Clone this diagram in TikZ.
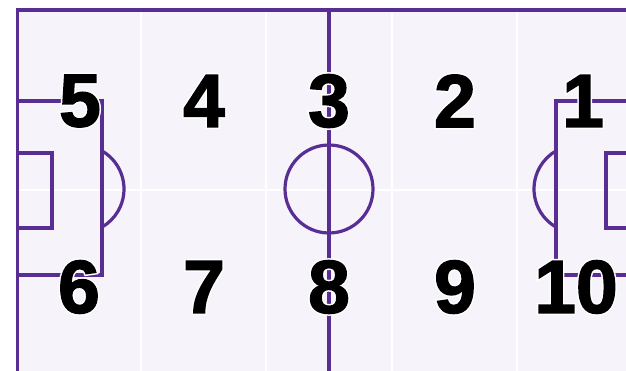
\documentclass[tikz,border=0pt]{standalone}
\usepackage{fontspec}
\setmainfont{Liberation Sans}
\font\zoneblack="Liberation Sans/B:embolden=2" at 75pt
\font\zonewhite="Liberation Sans/B:embolden=6" at 75pt
\newcommand{\zonedigits}[1]{\makebox[0pt]{\zonewhite\color{white}#1}\makebox[0pt]{\zoneblack\color{black}#1}}
\definecolor{PitchPurple}{RGB}{88,46,148}
\definecolor{PitchFill}{RGB}{246,244,250}

\begin{document}
\begin{tikzpicture}[x=1pt, y=-1pt,
    pitchline/.style={draw=PitchPurple, line width=3.2pt},
    zoneline/.style={draw=white, line width=2pt},
    zonenum/.style={inner sep=0pt}]
      \useasboundingbox (0,0) rectangle (626,371);
      \clip (0,0) rectangle (626,371);

      % Pitch surface
      \fill[PitchFill] (17.7,10) rectangle (640.3,373.5);

      % Zones
      \foreach \x in {141, 266, 392, 517} {
        \draw[zoneline] (\x,10) -- (\x,373.5);
      }
      \draw[zoneline] (17.7,190) -- (640.3,190);

      % Outline & halfway line
      \draw[pitchline] (17.7,373.5) -- (17.7,10) -- (640.3,10) -- (640.3,373.5) -- cycle;
      \draw[pitchline] (329,10) -- (329,373.5);
      \draw[pitchline] (329,189) circle[radius=44];

      % Left penalty area
      \draw[pitchline] (17.7,101) -- (102,101) -- (102,275) -- (17.7,275);
      \draw[pitchline] (17.7,153) -- (52,153) -- (52,228) -- (17.7,228);
      \draw[pitchline] (80,189) ++(-60:44) arc[start angle=-60, end angle=60, radius=44];

      % Right penalty area
      \draw[pitchline] (640.3,101) -- (556,101) -- (556,275) -- (640.3,275);
      \draw[pitchline] (640.3,153) -- (606,153) -- (606,228) -- (640.3,228);
      \draw[pitchline] (578,189) ++(120:44) arc[start angle=120, end angle=240, radius=44];

      % Zone numbers
      \foreach \xu/\up/\xd/\down in {80/5/79/6, 204/4/204/7, 329/3/329/8, 455/2/455/9, 583/1/576/10} {
        \node[zonenum] (n\up) at (\xu,101) {\zonedigits{\up}};
        \node[zonenum] (n\down) at (\xd,287) {\zonedigits{\down}};
      }
    \end{tikzpicture}
\end{document}
